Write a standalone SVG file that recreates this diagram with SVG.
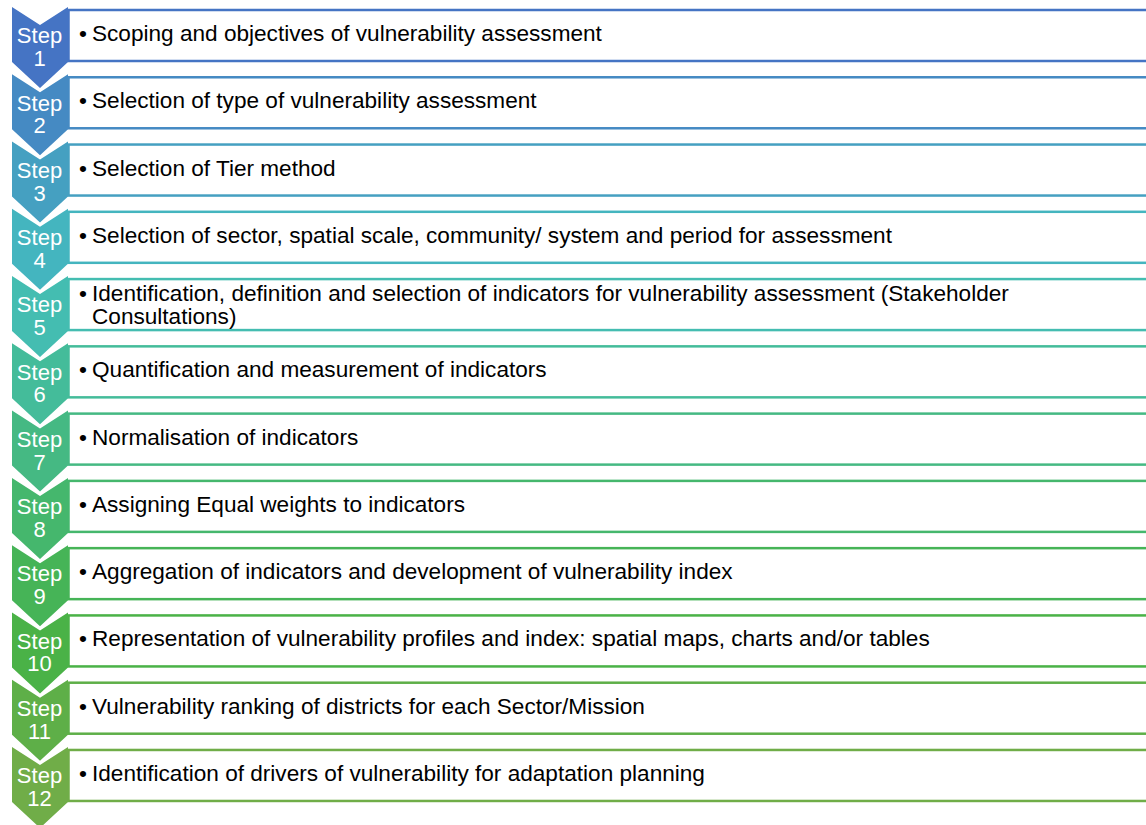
<svg xmlns="http://www.w3.org/2000/svg" width="1146" height="825" viewBox="0 0 1146 825">
<style>
  .box { fill: #ffffff; stroke-width: 2.5; }
  .lbl { font-family: "Liberation Sans", Arial, sans-serif; font-size: 22px; fill: #ffffff; text-anchor: middle; }
  .txt { font-family: "Liberation Sans", Arial, sans-serif; font-size: 22.6px; fill: #000000; }
  #s1 { --c: hsl(218,52%,52%); }
  #s2 { --c: hsl(207,51%,51.6%); }
  #s3 { --c: hsl(196,50%,51.3%); }
  #s4 { --c: hsl(185,49%,50.9%); }
  #s5 { --c: hsl(174,48%,50.5%); }
  #s6 { --c: hsl(163,47%,50.2%); }
  #s7 { --c: hsl(152,46%,49.8%); }
  #s8 { --c: hsl(141,45%,49.5%); }
  #s9 { --c: hsl(129,44%,49.1%); }
  #s10 { --c: hsl(118,43%,48.7%); }
  #s11 { --c: hsl(107,42%,48.4%); }
  #s12 { --c: hsl(96,41%,48%); }
  .chev { fill: var(--c); }
  .box { stroke: var(--c); }
</style>
<defs>
  <polygon id="chevron" points="12,7 40,25 68,7 68,62 40,88 12,62"/>
</defs>
<rect x="0" y="0" width="1146" height="825" fill="#ffffff"/>
<g id="connectors"/>
<g id="s1" transform="translate(0,0)">
  <rect class="box" x="68.5" y="10" width="1100" height="51"/>
  <use href="#chevron" class="chev"/>
  <text class="lbl" x="39.5" y="43.3">Step</text><text class="lbl" x="39.5" y="66">1</text>
  <text class="txt" x="79" y="41">•</text><text class="txt" x="92" y="41">Scoping and objectives of vulnerability assessment</text>
</g>
<g id="s2" transform="translate(0,67.27)">
  <rect class="box" x="68.5" y="10" width="1100" height="51"/>
  <use href="#chevron" class="chev"/>
  <text class="lbl" x="39.5" y="43.3">Step</text><text class="lbl" x="39.5" y="66">2</text>
  <text class="txt" x="79" y="41">•</text><text class="txt" x="92" y="41">Selection of type of vulnerability assessment</text>
</g>
<g id="s3" transform="translate(0,134.54)">
  <rect class="box" x="68.5" y="10" width="1100" height="51"/>
  <use href="#chevron" class="chev"/>
  <text class="lbl" x="39.5" y="43.3">Step</text><text class="lbl" x="39.5" y="66">3</text>
  <text class="txt" x="79" y="41">•</text><text class="txt" x="92" y="41">Selection of Tier method</text>
</g>
<g id="s4" transform="translate(0,201.81)">
  <rect class="box" x="68.5" y="10" width="1100" height="51"/>
  <use href="#chevron" class="chev"/>
  <text class="lbl" x="39.5" y="43.3">Step</text><text class="lbl" x="39.5" y="66">4</text>
  <text class="txt" x="79" y="41">•</text><text class="txt" x="92" y="41">Selection of sector, spatial scale, community/ system and period for assessment</text>
</g>
<g id="s5" transform="translate(0,269.08)">
  <rect class="box" x="68.5" y="10" width="1100" height="51"/>
  <use href="#chevron" class="chev"/>
  <text class="lbl" x="39.5" y="43.3">Step</text><text class="lbl" x="39.5" y="66">5</text>
  <text class="txt" x="79" y="31.5">•</text><text class="txt" x="92" y="31.5">Identification, definition and selection of indicators for vulnerability assessment (Stakeholder</text>
  <text class="txt" x="92" y="54.5">Consultations)</text>
</g>
<g id="s6" transform="translate(0,336.35)">
  <rect class="box" x="68.5" y="10" width="1100" height="51"/>
  <use href="#chevron" class="chev"/>
  <text class="lbl" x="39.5" y="43.3">Step</text><text class="lbl" x="39.5" y="66">6</text>
  <text class="txt" x="79" y="41">•</text><text class="txt" x="92" y="41">Quantification and measurement of indicators</text>
</g>
<g id="s7" transform="translate(0,403.62)">
  <rect class="box" x="68.5" y="10" width="1100" height="51"/>
  <use href="#chevron" class="chev"/>
  <text class="lbl" x="39.5" y="43.3">Step</text><text class="lbl" x="39.5" y="66">7</text>
  <text class="txt" x="79" y="41">•</text><text class="txt" x="92" y="41">Normalisation of indicators</text>
</g>
<g id="s8" transform="translate(0,470.89)">
  <rect class="box" x="68.5" y="10" width="1100" height="51"/>
  <use href="#chevron" class="chev"/>
  <text class="lbl" x="39.5" y="43.3">Step</text><text class="lbl" x="39.5" y="66">8</text>
  <text class="txt" x="79" y="41">•</text><text class="txt" x="92" y="41">Assigning Equal weights to indicators</text>
</g>
<g id="s9" transform="translate(0,538.16)">
  <rect class="box" x="68.5" y="10" width="1100" height="51"/>
  <use href="#chevron" class="chev"/>
  <text class="lbl" x="39.5" y="43.3">Step</text><text class="lbl" x="39.5" y="66">9</text>
  <text class="txt" x="79" y="41">•</text><text class="txt" x="92" y="41">Aggregation of indicators and development of vulnerability index</text>
</g>
<g id="s10" transform="translate(0,605.43)">
  <rect class="box" x="68.5" y="10" width="1100" height="51"/>
  <use href="#chevron" class="chev"/>
  <text class="lbl" x="39.5" y="43.3">Step</text><text class="lbl" x="39.5" y="66">10</text>
  <text class="txt" x="79" y="41">•</text><text class="txt" x="92" y="41">Representation of vulnerability profiles and index: spatial maps, charts and/or tables</text>
</g>
<g id="s11" transform="translate(0,672.7)">
  <rect class="box" x="68.5" y="10" width="1100" height="51"/>
  <use href="#chevron" class="chev"/>
  <text class="lbl" x="39.5" y="43.3">Step</text><text class="lbl" x="39.5" y="66">11</text>
  <text class="txt" x="79" y="41">•</text><text class="txt" x="92" y="41">Vulnerability ranking of districts for each Sector/Mission</text>
</g>
<g id="s12" transform="translate(0,739.97)">
  <rect class="box" x="68.5" y="10" width="1100" height="51"/>
  <use href="#chevron" class="chev"/>
  <text class="lbl" x="39.5" y="43.3">Step</text><text class="lbl" x="39.5" y="66">12</text>
  <text class="txt" x="79" y="41">•</text><text class="txt" x="92" y="41">Identification of drivers of vulnerability for adaptation planning</text>
</g>
</svg>
